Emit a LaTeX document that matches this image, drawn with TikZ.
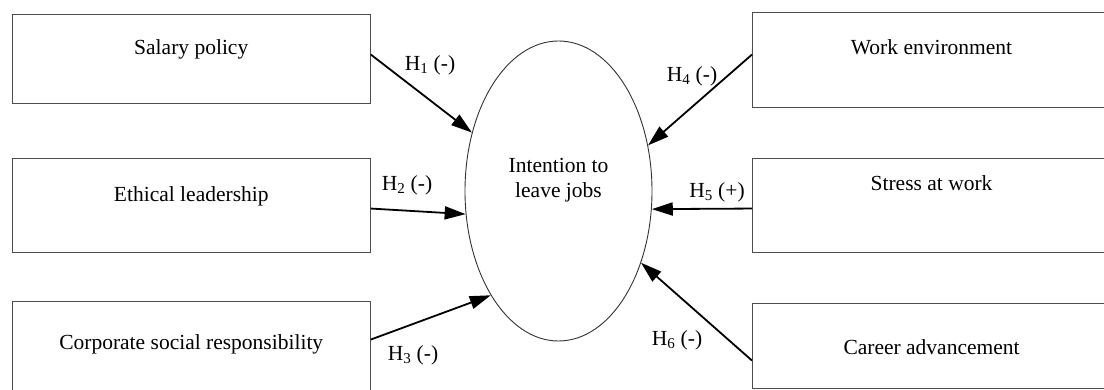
\documentclass[tikz,border=0pt]{standalone}
\usepackage{fontspec}
\setmainfont{Liberation Serif}
\usetikzlibrary{arrows.meta,shapes.geometric}
\begin{document}
\begin{tikzpicture}[x=1pt,y=-1pt,
  box/.style={draw=black!70, line width=1.1pt, minimum width=358pt, inner sep=0pt, anchor=north west, font=\fontsize{21.5}{25}\selectfont},
  arr/.style={line width=1.8pt, -{Triangle[length=21pt,width=13pt]}},
  hyp/.style={font=\fontsize{21.5}{25}\selectfont, inner sep=0pt},
  bubble/.style={draw=black!80, line width=0.9pt, ellipse, minimum width=187pt, minimum height=300pt, inner sep=0pt}]
\clip (0,0) rectangle (1104,390);
\fill[white] (0,0) rectangle (1104,390);
% left boxes
\node[box, text height=40pt, text depth=49pt] (b1) at (11.7,14) {Salary policy};
\node[box, text height=43pt, text depth=51pt] (b2) at (11.7,158) {Ethical leadership};
\node[box, text height=48pt, text depth=52pt] (b3) at (11.7,301) {Corporate social responsibility};
% right boxes
\node[box, text height=42pt, text depth=53pt] (b4) at (752,12) {Work environment};
\node[box, text height=32pt, text depth=62pt] (b5) at (752,158) {Stress at work};
\node[box, text height=51pt, text depth=34pt] (b6) at (752,303) {Career advancement};
% ellipse
\node[bubble] (ell) at (558.5,191) {};
\node[hyp, align=center] (ttl) at (558.5,180) {Intention to\\leave jobs};
% arrows
\draw[arr] ([yshift=4.5pt]b1.east) -- (ell.146);
\draw[arr] ([yshift=-3pt]b2.east) -- (ell.194);
\draw[arr] ([yshift=12pt]b3.east) -- (ell.237);
\draw[arr] ([yshift=5.5pt]b4.west) -- (ell.27);
\draw[arr] ([yshift=-3pt]b5.west) -- (ell.349.6);
\draw[arr] ([yshift=-14.5pt]b6.west) -- (ell.319);
% labels
\node[hyp] (h1) at (430,65) {H\textsubscript{1} (-)};
\node[hyp] (h2) at (407,185) {H\textsubscript{2} (-)};
\node[hyp] (h3) at (413,355) {H\textsubscript{3} (-)};
\node[hyp] (h4) at (692,76) {H\textsubscript{4} (-)};
\node[hyp] (h5) at (717,192) {H\textsubscript{5} (+)};
\node[hyp] (h6) at (677,340) {H\textsubscript{6} (-)};
\end{tikzpicture}
\end{document}
